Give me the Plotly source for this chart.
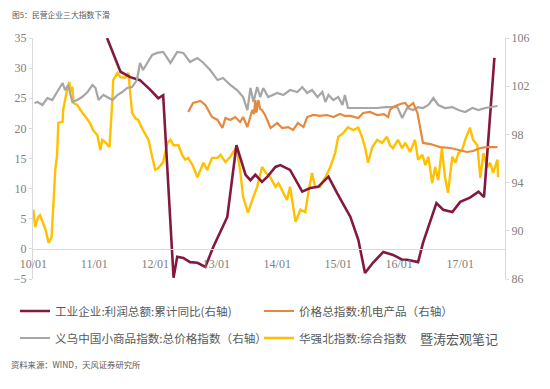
import plotly.graph_objects as go
import pandas as pd

# ---------------- data (time as decimal years) ----------------
profit_t = [2011.21, 2011.43, 2011.59, 2011.75, 2011.92, 2012.05, 2012.13, 2012.30, 2012.36,
            2012.46, 2012.57, 2012.69, 2012.82, 2012.95, 2013.18, 2013.33, 2013.48, 2013.56,
            2013.64, 2013.75, 2013.84, 2013.97, 2014.05, 2014.21, 2014.41, 2014.54, 2014.67,
            2014.84, 2014.98, 2015.20, 2015.33, 2015.44, 2015.57, 2015.74, 2015.90, 2016.05,
            2016.13, 2016.31, 2016.39, 2016.61, 2016.72, 2016.87, 2017.00, 2017.16, 2017.30,
            2017.39, 2017.56]
profit_v = [35.0, 29.4, 28.5, 28.0, 26.4, 25.0, 25.5, -4.8, -1.3,
            -1.5, -2.2, -2.3, -3.0, 0.3, 5.3, 17.2, 12.3, 11.4,
            12.3, 11.1, 12.0, 13.6, 13.9, 13.1, 9.5, 10.1, 10.3,
            12.0, 9.3, 5.3, 1.5, -4.0, -2.3, -0.5, -1.0, -1.8,
            -1.8, -2.2, 1.0, 7.6, 6.5, 6.1, 7.8, 8.5, 9.5,
            8.6, 31.7]

price_t = [2012.54, 2012.62, 2012.74, 2012.82, 2012.93, 2013.02, 2013.10, 2013.15, 2013.23,
           2013.31, 2013.39, 2013.44, 2013.51, 2013.59, 2013.62, 2013.64, 2013.66, 2013.69,
           2013.72, 2013.75, 2013.80, 2013.89, 2014.00, 2014.08, 2014.18, 2014.26, 2014.34,
           2014.43, 2014.49, 2014.59, 2014.70, 2014.82, 2014.92, 2015.03, 2015.11, 2015.20,
           2015.33, 2015.41, 2015.52, 2015.64, 2015.75, 2015.82, 2015.85, 2015.90, 2016.02,
           2016.10, 2016.15, 2016.23, 2016.30, 2016.34, 2016.39, 2016.51, 2016.67, 2016.84,
           2017.00, 2017.11, 2017.21, 2017.33, 2017.44, 2017.61]
price_v = [99.86, 100.61, 100.77, 100.44, 99.44, 99.20, 98.53, 99.36, 99.20,
           99.44, 99.03, 99.44, 98.61, 100.02, 99.70, 100.85, 99.80, 100.85,
           100.10, 100.02, 99.61, 98.53, 98.95, 98.53, 98.61, 98.37, 98.95,
           98.61, 99.44, 99.61, 99.53, 99.61, 99.44, 99.69, 99.53, 99.53,
           99.36, 99.78, 99.86, 99.61, 99.69, 99.44, 100.02, 100.27, 100.52,
           100.61, 100.27, 100.61, 99.78, 98.53, 97.29, 97.20, 96.95, 96.87,
           96.71, 96.54, 96.62, 96.87, 96.95, 96.95]

yiwu_t = [2010.02, 2010.07, 2010.15, 2010.23, 2010.31, 2010.39, 2010.48, 2010.52, 2010.57,
          2010.64, 2010.72, 2010.80, 2010.89, 2010.97, 2011.02, 2011.07, 2011.15, 2011.21,
          2011.30, 2011.38, 2011.46, 2011.54, 2011.62, 2011.70, 2011.75, 2011.80, 2011.87,
          2011.95, 2012.03, 2012.13, 2012.25, 2012.36, 2012.46, 2012.57, 2012.69, 2012.79,
          2012.90, 2013.02, 2013.11, 2013.23, 2013.34, 2013.44, 2013.51, 2013.56, 2013.61,
          2013.67, 2013.72, 2013.77, 2013.85, 2013.93, 2014.00, 2014.10, 2014.21, 2014.33,
          2014.41, 2014.49, 2014.57, 2014.66, 2014.74, 2014.79, 2014.84, 2014.92, 2015.00,
          2015.07, 2015.11, 2015.16, 2015.31, 2015.48, 2015.64, 2015.77, 2015.89, 2015.97,
          2016.05, 2016.13, 2016.23, 2016.31, 2016.39, 2016.48, 2016.56, 2016.64, 2016.75,
          2016.87, 2016.97, 2017.08, 2017.20, 2017.30, 2017.41, 2017.49, 2017.61]
yiwu_v = [100.60, 100.69, 100.44, 101.02, 100.85, 101.52, 102.27, 101.68, 102.10,
          100.69, 100.85, 101.10, 101.52, 102.10, 101.85, 100.85, 101.27, 101.10,
          100.85, 101.27, 101.52, 101.85, 101.93, 102.51, 103.93, 103.34, 103.93,
          104.59, 104.76, 104.84, 103.93, 104.84, 104.76, 104.01, 104.34, 103.93,
          103.34, 102.51, 102.68, 102.10, 101.68, 101.10, 100.02, 101.85, 100.69,
          101.93, 101.10, 101.85, 101.10, 101.27, 101.44, 101.27, 101.68, 101.52,
          101.93, 101.44, 101.68, 101.10, 101.52, 100.69, 101.27, 100.85, 101.10,
          100.44, 101.27, 100.19, 100.19, 100.19, 100.19, 100.27, 100.27, 100.27,
          99.36, 100.19, 100.02, 100.27, 100.19, 100.44, 101.02, 100.44, 100.19,
          100.27, 100.02, 99.86, 100.19, 100.02, 100.19, 100.27, 100.36]

hqb_t = [2010.00, 2010.03, 2010.08, 2010.11, 2010.20, 2010.25, 2010.30, 2010.33, 2010.36,
         2010.39, 2010.41, 2010.48, 2010.49, 2010.56, 2010.59, 2010.61, 2010.64, 2010.66,
         2010.72, 2010.77, 2010.85, 2010.93, 2010.98, 2011.05, 2011.10, 2011.13, 2011.18,
         2011.25, 2011.30, 2011.31, 2011.38, 2011.43, 2011.51, 2011.56, 2011.59, 2011.62,
         2011.67, 2011.72, 2011.80, 2011.89, 2011.95, 2012.00, 2012.05, 2012.13, 2012.20,
         2012.25, 2012.30, 2012.38, 2012.44, 2012.49, 2012.54, 2012.61, 2012.69, 2012.74,
         2012.79, 2012.85, 2012.93, 2013.02, 2013.07, 2013.15, 2013.23, 2013.33, 2013.39,
         2013.44, 2013.52, 2013.59, 2013.67, 2013.75, 2013.80, 2013.89, 2013.97, 2014.02,
         2014.10, 2014.16, 2014.21, 2014.30, 2014.38, 2014.46, 2014.51, 2014.57, 2014.62,
         2014.70, 2014.79, 2014.87, 2014.95, 2015.00, 2015.08, 2015.16, 2015.25, 2015.33,
         2015.39, 2015.44, 2015.49, 2015.56, 2015.64, 2015.72, 2015.80, 2015.85, 2015.90,
         2015.98, 2016.05, 2016.10, 2016.18, 2016.26, 2016.31, 2016.38, 2016.43, 2016.48,
         2016.54, 2016.59, 2016.64, 2016.70, 2016.75, 2016.80, 2016.87, 2016.92, 2016.97,
         2017.03, 2017.08, 2017.16, 2017.21, 2017.28, 2017.33, 2017.38, 2017.44, 2017.49,
         2017.54, 2017.61, 2017.62]
hqb_v = [6.5, 3.6, 5.3, 5.6, 3.2, 1.0, 2.0, 8.6, 13.1,
         15.6, 20.9, 21.1, 23.1, 26.7, 27.7, 26.0, 26.9, 24.2,
         23.9, 23.1, 21.9, 20.9, 19.7, 18.9, 16.4, 18.1, 17.7,
         16.9, 25.2, 28.0, 29.2, 28.5, 28.4, 29.2, 25.9, 22.6,
         21.7, 21.4, 19.7, 18.1, 15.3, 13.1, 13.4, 14.4, 17.6,
         18.1, 17.2, 17.2, 15.6, 14.8, 15.1, 13.9, 11.9, 13.1,
         14.3, 13.1, 15.1, 15.1, 15.6, 14.4, 15.3, 16.9, 13.1,
         8.6, 6.0, 8.1, 10.3, 13.6, 12.8, 11.8, 10.3, 10.9,
         9.3, 8.1, 10.3, 4.5, 6.5, 6.1, 9.3, 12.6, 10.3,
         10.3, 11.9, 13.6, 15.9, 18.6, 19.2, 20.2, 19.7, 20.1,
         18.6, 16.9, 14.3, 16.9, 18.1, 17.6, 18.6, 17.2, 16.7,
         18.1, 16.7, 17.6, 16.1, 18.1, 14.8, 15.6, 13.9, 15.3,
         10.9, 13.6, 11.4, 16.7, 11.9, 9.3, 15.3, 14.3, 15.9,
         16.4, 18.1, 20.1, 18.1, 17.2, 11.8, 15.9, 13.6, 14.3,
         12.6, 14.8, 11.9]

tick_years = [2010, 2011, 2012, 2013, 2014, 2015, 2016, 2017]
tick_text = ["10/01", "11/01", "12/01", "13/01", "14/01", "15/01", "16/01", "17/01"]

names = ["工业企业:利润总额:累计同比(右轴)", "价格总指数:机电产品（右轴）",
         "义乌中国小商品指数:总价格指数（右轴）", "华强北指数:综合指数"]
colors = ["#84193F", "#E5893D", "#A6A6A6", "#FFC000"]


def to_dates(ts):
    out = []
    for t in ts:
        y = int(t)
        start = pd.Timestamp(year=y, month=1, day=1)
        nxt = pd.Timestamp(year=y + 1, month=1, day=1)
        out.append(start + (nxt - start) * (t - y))
    return out


fig = go.Figure()
fig.add_trace(go.Scatter(x=to_dates(yiwu_t), y=yiwu_v, name=names[2], yaxis="y2",
                         mode="lines", line=dict(color=colors[2], width=2.2),
                         legend="legend3"))
fig.add_trace(go.Scatter(x=to_dates(price_t), y=price_v, name=names[1], yaxis="y2",
                         mode="lines", line=dict(color=colors[1], width=2.2),
                         legend="legend2"))
fig.add_trace(go.Scatter(x=to_dates(hqb_t), y=hqb_v, name=names[3], yaxis="y",
                         mode="lines", line=dict(color=colors[3], width=2.4),
                         legend="legend4"))
fig.add_trace(go.Scatter(x=to_dates(profit_t), y=profit_v, name=names[0], yaxis="y",
                         mode="lines", line=dict(color=colors[0], width=2.6),
                         legend="legend"))

num_font = dict(family="Liberation Serif, DejaVu Serif", size=12, color="#808080")
cjk = "Noto Sans CJK SC"
legend_common = dict(orientation="h", xanchor="left", yanchor="middle",
                     font=dict(family=cjk, size=11.6, color="#595959"),
                     bgcolor="rgba(0,0,0,0)")

# plot area in screen pixels: x 33..505, y 38..279 (page body adds an 8px offset)
PW, PH = 472, 241
col1 = (15 - 33) / PW
col2 = (259 - 33) / PW
row1 = -(311 - 279) / PH
row2 = -(338 - 279) / PH

fig.update_layout(
    width=542, height=381,
    margin=dict(l=25, r=45, t=30, b=110, autoexpand=False),
    paper_bgcolor="white", plot_bgcolor="white",
    showlegend=True,
    xaxis=dict(type="date", range=["2009-12-30", "2017-09-26"],
               tickvals=[pd.Timestamp(year=y, month=1, day=1) for y in tick_years],
               ticktext=tick_text, tickfont=num_font, ticklabelstandoff=4,
               showgrid=False, zeroline=False, showline=True, linecolor="#D9D9D9",
               linewidth=1, ticks="", anchor="free", position=30 / PH),
    yaxis=dict(range=[-5, 35], tickvals=[-5, 0, 5, 10, 15, 20, 25, 30, 35],
               tickfont=num_font, showgrid=False, zeroline=False, showline=True,
               linecolor="#D9D9D9", ticks="outside", ticklen=3, tickcolor="#D9D9D9"),
    yaxis2=dict(range=[86, 106], tickvals=[86, 90, 94, 98, 102, 106], overlaying="y",
                side="right", tickfont=num_font, showgrid=False, zeroline=False,
                showline=True, linecolor="#D9D9D9", ticks="outside", ticklen=3,
                tickcolor="#D9D9D9"),
    legend=dict(x=col1, y=row1, **legend_common),
    legend2=dict(x=col2, y=row1, **legend_common),
    legend3=dict(x=col1, y=row2, **legend_common),
    legend4=dict(x=col2, y=row2, **legend_common),
)

fig.add_annotation(text="图5：民营企业三大指数下滑", xref="paper", yref="paper",
                   x=-23 / PW, y=1 + 23 / PH, xanchor="left", yanchor="middle",
                   showarrow=False, font=dict(family=cjk, size=7.8, color="#595959"))
fig.add_annotation(text="资料来源：WIND，天风证券研究所", xref="paper", yref="paper",
                   x=-24 / PW, y=-85 / PH, xanchor="left", yanchor="middle",
                   showarrow=False, font=dict(family=cjk, size=8.3, color="#595959"))
fig.add_annotation(text="暨涛宏观笔记", xref="paper", yref="paper",
                   x=(418 - 33) / PW, y=row2, xanchor="left", yanchor="middle",
                   showarrow=False, font=dict(family=cjk, size=13, color="#555555"))

fig.write_html("out.html")
